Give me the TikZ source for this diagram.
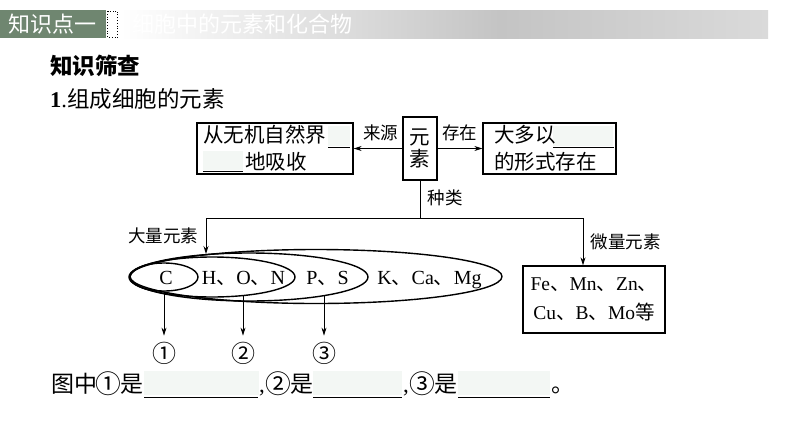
\documentclass[tikz,border=0pt]{standalone}
\usepackage{fontspec}
\setmainfont{Liberation Serif}
\newfontfamily\cj{Noto Sans CJK SC}
\usetikzlibrary{arrows.meta,shapes.geometric}
\newcommand\myfs[2]{\fontsize{#1}{#2}\selectfont}
\newcommand\dun{{\cj 、}}
\newcommand\bigcn[1]{\makebox[1em]{\raisebox{-0.05em}{\scalebox{1.12}{#1}}}}
\definecolor{hdrgreen}{HTML}{6F8670}
\definecolor{hdrgray}{HTML}{C4C4C4}
\definecolor{hdrgrayb}{HTML}{DADADA}
\definecolor{blankc}{HTML}{F3F7F4}
\begin{document}
\begin{tikzpicture}[x=1pt,y=-1pt,
  framebox/.style={draw,line width=1.3pt,inner sep=0pt,fill=white},
  ell/.style={draw,ellipse,line width=1.4pt,inner sep=0pt},
  arr/.style={-{Stealth[length=8pt,width=5pt]},line width=0.9pt},
  plain/.style={line width=0.9pt},
  lab/.style={inner sep=0pt,font=\cj\myfs{17.5}{17.5}},
  txt/.style={inner sep=0pt,font=\cj\myfs{20.5}{20.5}},
  lat/.style={inner sep=0pt,font=\myfs{20}{20}},
  num/.style={inner sep=0pt,font=\cj\myfs{24}{24}},
  btxt/.style={inner sep=0pt,anchor=base west,font=\cj\myfs{23}{23}},
  uline/.style={line width=0.8pt}]
\useasboundingbox (0,0) rectangle (794,447);
% header
\fill[hdrgreen] (0,10) rectangle (106,38);
\shade[left color=white,right color=hdrgray] (120,10) rectangle (500,38);
\shade[left color=hdrgray,right color=hdrgrayb] (500,10) rectangle (768,38);
\draw[dotted,line width=0.8pt] (107.5,11) rectangle (117.5,37.5);
\node[inner sep=0pt,text=white,font=\cj\myfs{22}{22}] (h1) at (53,24) {知识点一};
\node[inner sep=0pt,text=white,font=\cj\myfs{22}{22}] (h2) at (242,24) {细胞中的元素和化合物};
% titles
\node[anchor=west,inner sep=0pt,font=\cj\bfseries\myfs{22.5}{22.5}] (t1) at (50,66) {知识筛查};
\node[anchor=west,inner sep=0pt,font=\myfs{22.5}{22.5}] (t2) at (50,99) {\textbf{1}.{\cj 组成细胞的元素}};
% element box
\node[framebox,minimum width=34pt,minimum height=63pt,align=center,font=\cj\myfs{20.5}{22}] (el) at (420,148.5) {元\\素};
% left box
\node[framebox,minimum width=156pt,minimum height=51pt] (lb) at (275,148.5) {};
\fill[blankc] (328,126) rectangle (350,146);
\draw[uline] (328,147) -- (350,147);
\fill[blankc] (203,151) rectangle (243,170);
\draw[uline] (203,171) -- (243,171);
\node[txt,anchor=west] (lb1) at (203,135) {从无机自然界};
\node[txt,anchor=west] (lb2) at (245,162) {地吸收};
% right box
\node[framebox,minimum width=133pt,minimum height=51pt] (rb) at (549.5,148.5) {};
\fill[blankc] (553,126) rectangle (613,146);
\draw[uline] (553,147) -- (614,147);
\node[txt,anchor=west] (rb1) at (494,135) {大多以};
\node[txt,anchor=west] (rb2) at (494,162) {的形式存在};
% arrows top
\draw[arr] (el.west) -- (lb.east);
\draw[arr] (el.east) -- (rb.west);
\node[lab] (ly) at (380.5,133) {来源};
\node[lab] (cz) at (459.5,133) {存在};
% vertical and branches
\coordinate (j) at (420,218);
\draw[plain] (el.south) -- (j);
\node[lab] (zl) at (445,198) {种类};
\coordinate (a1) at (206,254);
\node[framebox,minimum width=142pt,minimum height=67pt,align=center,font=\myfs{19.5}{29}] (wl) at (594,299.5) {Fe\dun Mn\dun Zn\dun\\Cu\dun B\dun Mo{\cj 等}};
\coordinate (a2) at (583,218);
\draw[arr] (j) -| (a1);
\draw[plain] (j) -- (a2);
\draw[arr] (a2) -- (a2 |- wl.north);
\node[lab] (dl) at (163,236) {大量元素};
\node[lab] (wlab) at (625.5,242) {微量元素};
% ellipses
\node[ell,minimum width=372pt,minimum height=54pt] (e4) at (316,276.5) {};
\node[ell,minimum width=238pt,minimum height=48pt] (e3) at (249,277) {};
\node[ell,minimum width=166pt,minimum height=40pt] (e2) at (212,277) {};
\node[ell,minimum width=68pt,minimum height=28pt] (e1) at (164,277) {};
\node[lat,anchor=base] (tc) at (166,284) {C};
\node[lat,anchor=base] (thon) at (243.5,284) {H\dun O\dun N};
\node[lat,anchor=base] (tps) at (327.5,284) {P\dun S};
\node[lat,anchor=base] (tk) at (429.5,284) {K\dun Ca\dun Mg};
% down arrows
\node[num] (c1) at (164,353) {①};
\node[num] (c2) at (243,353) {②};
\node[num] (c3) at (324,353) {③};
\coordinate (s2) at (243,295.8);
\coordinate (s3) at (324,295.8);
\draw[arr,shorten >=6pt] (e1.south) -- (c1.north);
\draw[arr,shorten >=6pt] (s2) -- (c2.north);
\draw[arr,shorten >=6pt] (s3) -- (c3.north);
% bottom line
\fill[blankc] (144,371) rectangle (259,395);
\fill[blankc] (313,371) rectangle (402,395);
\fill[blankc] (458,371) rectangle (550,395);
\draw[uline] (144,397) -- (258,397);
\draw[uline] (313,397) -- (402,397);
\draw[uline] (458,397) -- (550,397);
\node[btxt] (b1) at (51,392) {图中\bigcn{①}是};
\node[inner sep=0pt,anchor=base west,font=\myfs{23}{23}] (b2) at (259,392) {,};
\node[btxt] (b3) at (267,392) {\bigcn{②}是};
\node[inner sep=0pt,anchor=base west,font=\myfs{23}{23}] (b4) at (403,392) {,};
\node[btxt] (b5) at (411,392) {\bigcn{③}是};
\node[btxt] (b6) at (551,392) {。};
\end{tikzpicture}
\end{document}
